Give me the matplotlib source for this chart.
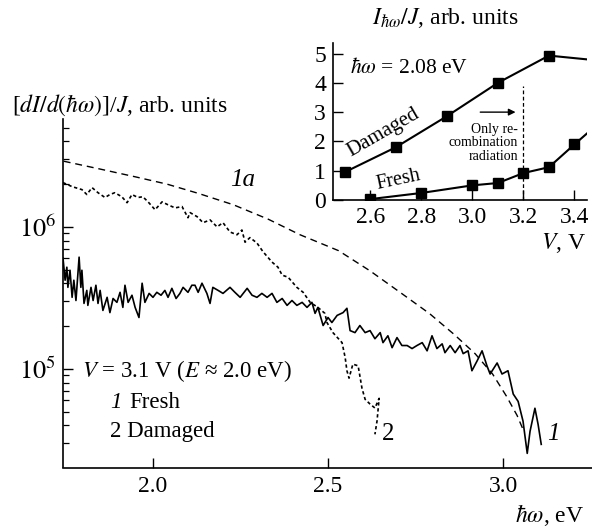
import matplotlib
matplotlib.use("Agg")
import matplotlib.pyplot as plt
import numpy as np

plt.rcParams['font.family'] = ['Liberation Serif', 'DejaVu Serif']
plt.rcParams['mathtext.fontset'] = 'stix'

# --- main panel data: photon energy (eV) vs dI/d(hw)/J ---
e_1a = [1.745, 1.85, 1.95, 2.04, 2.13, 2.23, 2.33, 2.42, 2.53, 2.62, 2.71,
        2.79, 2.86, 2.92, 2.97, 3.01, 3.04, 3.06]
i_1a = [2.9e6, 2.55e6, 2.25e6, 2.0e6, 1.72e6, 1.43e6, 1.13e6, 8.8e5, 6.8e5,
        4.9e5, 3.4e5, 2.45e5, 1.75e5, 1.28e5, 9.2e4, 6.4e4, 4.7e4, 3.6e4]

e_dam = [1.743, 1.769, 1.797, 1.811, 1.826, 1.843, 1.863, 1.877, 1.891, 1.911,
         1.926, 1.94, 1.957, 1.971, 1.986, 2.006, 2.026, 2.043, 2.063, 2.083,
         2.1, 2.106, 2.126, 2.143, 2.163, 2.183, 2.2, 2.22, 2.24, 2.254,
         2.263, 2.277, 2.297, 2.314, 2.34, 2.357, 2.369, 2.386, 2.411, 2.429,
         2.449, 2.471, 2.491, 2.497, 2.514, 2.54, 2.549, 2.554, 2.56, 2.571,
         2.586, 2.597, 2.606, 2.62, 2.634, 2.646, 2.64, 2.634]
i_dam = [2.05e6, 1.92e6, 1.83e6, 1.69e6, 1.89e6, 1.74e6, 1.61e6, 1.69e6, 1.74e6, 1.63e6,
         1.48e6, 1.69e6, 1.61e6, 1.63e6, 1.50e6, 1.32e6, 1.50e6, 1.43e6, 1.36e6, 1.39e6,
         1.16e6, 1.26e6, 1.18e6, 1.07e6, 1.12e6, 1.0e6, 1.07e6, 9.2e5, 8.8e5, 9.5e5,
         7.8e5, 8.4e5, 7.7e5, 6.7e5, 5.65e5, 5.2e5, 4.57e5, 4.42e5, 3.75e5, 3.46e5,
         2.94e5, 2.71e5, 2.46e5, 2.12e5, 1.80e5, 1.53e5, 1.20e5, 9.7e4, 8.6e4, 1.08e5,
         1.05e5, 7.3e4, 6.1e4, 5.65e4, 5.3e4, 6.2e4, 4.3e4, 3.46e4]

e_fresh = [1.743, 1.749, 1.754, 1.757, 1.763, 1.769, 1.774, 1.78, 1.789, 1.794,
           1.797, 1.803, 1.811, 1.814, 1.823, 1.829, 1.837, 1.843, 1.849, 1.857,
           1.869, 1.877, 1.886, 1.897, 1.906, 1.914, 1.92, 1.929, 1.94, 1.949,
           1.96, 1.969, 1.977, 1.989, 2.0, 2.011, 2.023, 2.034, 2.043, 2.054,
           2.066, 2.077, 2.086, 2.1, 2.111, 2.12, 2.129, 2.14, 2.154, 2.163,
           2.171, 2.186, 2.2, 2.22, 2.234, 2.249, 2.269, 2.283, 2.297, 2.311,
           2.326, 2.34, 2.354, 2.369, 2.383, 2.397, 2.411, 2.426, 2.44, 2.454,
           2.463, 2.471, 2.486, 2.5, 2.511, 2.526, 2.543, 2.554, 2.563, 2.577,
           2.591, 2.606, 2.62, 2.634, 2.649, 2.657, 2.671, 2.683, 2.697, 2.711,
           2.726, 2.74, 2.754, 2.769, 2.783, 2.797, 2.811, 2.826, 2.834, 2.849,
           2.863, 2.877, 2.886, 2.9, 2.911, 2.926, 2.94, 2.954, 2.963, 2.983,
           2.997, 3.014, 3.029, 3.043, 3.057, 3.069, 3.077, 3.091, 3.1, 3.109]
i_fresh = [6.03e5, 4.21e5, 5.2e5, 3.75e5, 4.95e5, 3.19e5, 4.21e5, 3.03e5, 6.12e5, 3.75e5,
           4.95e5, 2.89e5, 3.57e5, 2.8e5, 3.75e5, 3.03e5, 3.88e5, 2.89e5, 3.57e5, 2.58e5,
           3.19e5, 2.49e5, 3.13e5, 2.94e5, 3.46e5, 2.71e5, 3.88e5, 2.94e5, 3.3e5, 2.71e5,
           2.3e5, 4.01e5, 2.94e5, 3.4e5, 3.19e5, 3.46e5, 3.3e5, 3.57e5, 3.19e5, 3.69e5,
           3.13e5, 3.4e5, 3.75e5, 3.46e5, 3.88e5, 3.88e5, 3.46e5, 4.01e5, 3.4e5, 2.89e5,
           3.75e5, 3.57e5, 3.4e5, 3.75e5, 3.46e5, 3.19e5, 3.69e5, 3.3e5, 3.19e5, 3.4e5,
           3.19e5, 3.4e5, 2.94e5, 3.13e5, 2.8e5, 3.03e5, 2.8e5, 2.94e5, 2.71e5, 2.94e5,
           2.46e5, 2.71e5, 2.02e5, 2.3e5, 2.12e5, 2.38e5, 2.49e5, 2.67e5, 1.86e5, 1.8e5,
           2.02e5, 1.8e5, 1.86e5, 1.63e5, 1.8e5, 1.53e5, 1.71e5, 1.41e5, 1.66e5, 1.46e5,
           1.46e5, 1.39e5, 1.46e5, 1.53e5, 1.34e5, 1.71e5, 1.39e5, 1.5e5, 1.3e5, 1.46e5,
           1.3e5, 1.46e5, 1.28e5, 1.34e5, 9.7e4, 1.14e5, 1.34e5, 1.05e5, 9.2e4, 1.1e5,
           9.2e4, 9.7e4, 6.65e4, 5.9e4, 4.28e4, 2.54e4, 3.63e4, 5.28e4, 4.07e4, 2.94e4]

# --- inset data: bias voltage vs I_hw/J at hw = 2.08 eV ---
v_dam = [2.5, 2.7, 2.9, 3.1, 3.3]
s_dam = [0.95, 1.8, 2.86, 4.0, 4.93]
v_dam_tail = [3.3, 3.45]
s_dam_tail = [4.93, 4.8]
v_fr = [2.6, 2.8, 3.0, 3.1, 3.2, 3.3, 3.4]
s_fr = [0.03, 0.24, 0.5, 0.58, 0.92, 1.12, 1.9]
v_fr_tail = [3.4, 3.45]
s_fr_tail = [1.9, 2.28]

W, H = 592, 529
FS = 17
fig = plt.figure(figsize=(W / 100, H / 100), dpi=100)

# main axes
ax = fig.add_axes([63 / W, 1 - 467.5 / H, (W - 63) / W, (467.5 - 119) / H])
ax.plot(e_1a, i_1a, color='black', lw=1.0, ls=(0, (5, 3.5)))
ax.plot(e_dam, i_dam, color='black', lw=1.2, ls=(0, (2, 1.6)))
ax.plot(e_fresh, i_fresh, color='black', lw=1.2)
ax.set_yscale('log')
ax.set_xlim(1.743, 3.254)
ax.set_ylim(2.02e4, 5.75e6)
ax.set_xticks([2.0, 2.5, 3.0])
ax.set_xticklabels(['2.0', '2.5', '3.0'])
ax.set_yticks([1e5, 1e6])
ax.set_yticklabels([r'$10^5$', r'$10^6$'])
ax.yaxis.set_minor_locator(matplotlib.ticker.LogLocator(base=10, subs=np.arange(2, 10)))
ax.yaxis.set_minor_formatter(matplotlib.ticker.NullFormatter())
ax.tick_params(which='major', direction='in', length=7, width=1.0, labelsize=FS, pad=6)
ax.tick_params(axis='y', which='major', labelsize=19, pad=5)
ax.tick_params(which='minor', direction='in', length=4.5, width=0.9)
for s in ['top', 'right']:
    ax.spines[s].set_visible(False)
for s in ['left', 'bottom']:
    ax.spines[s].set_linewidth(1.2)

ax.text(2.257, 2.15e6, '1a', fontsize=FS + 1, style='italic', ha='center', va='center')
ax.text(2.671, 3.5e4, '2', fontsize=FS + 1, ha='center', va='center')
ax.text(3.145, 3.5e4, '1', fontsize=FS + 1, style='italic', ha='center', va='center')

fig.text(82 / W, 1 - 371 / H, '$V$ = 3.1 V ($E$ \u2248 2.0 eV)', fontsize=16.5, va='center')
fig.text(110 / W, 1 - 402 / H, '1', fontsize=16.5, style='italic', va='center')
fig.text(129 / W, 1 - 402 / H, 'Fresh', fontsize=16.5, va='center')
fig.text(110 / W, 1 - 432 / H, '2 Damaged', fontsize=16.5, va='center')
fig.text(12 / W, 1 - 105 / H, r'[$dI/d(\hbar\omega)$]/$J$, arb. units', fontsize=FS, va='center')
fig.text(584 / W, 1 - 515 / H, r'$\hbar\omega$, eV', fontsize=FS, va='center', ha='right')

# inset axes
axi = fig.add_axes([333 / W, 1 - 200 / H, (587 - 333) / W, (200 - 43) / H])
axi.plot(v_dam, s_dam, color='black', lw=1.5, marker='s', ms=7)
axi.plot(v_dam_tail, s_dam_tail, color='black', lw=1.5)
axi.plot(v_fr, s_fr, color='black', lw=1.5, marker='s', ms=7)
axi.plot(v_fr_tail, s_fr_tail, color='black', lw=1.5)
axi.plot([3.2, 3.2], [0, 3.9], color='black', lw=0.9, ls=(0, (3, 2)))
axi.annotate('', xy=(3.18, 3.0), xytext=(3.02, 3.0),
             arrowprops=dict(arrowstyle='-|>', color='black', lw=1.0, mutation_scale=10))
axi.text(3.178, 1.95, 'Only re-\ncombination\nradiation', fontsize=10, ha='right', va='center',
         linespacing=1.05)
axi.text(2.52, 4.5, r'$\hbar\omega$ = 2.08 eV', fontsize=FS - 1.5, va='center')
axi.text(2.65, 2.3, 'Damaged', fontsize=15, rotation=30, ha='center', va='center')
axi.text(2.71, 0.7, 'Fresh', fontsize=14.5, rotation=12, ha='center', va='center')
axi.set_xlim(2.454, 3.449)
axi.set_ylim(0, 5.36)
axi.set_xticks([2.6, 2.8, 3.0, 3.2, 3.4])
axi.set_xticklabels(['2.6', '2.8', '3.0', '3.2', '3.4'])
axi.set_yticks([0, 1, 2, 3, 4, 5])
axi.tick_params(direction='in', length=7, width=1.0, labelsize=FS, pad=5)
for s in ['top', 'right']:
    axi.spines[s].set_visible(False)
for s in ['left', 'bottom']:
    axi.spines[s].set_linewidth(1.2)

fig.text(372 / W, 1 - 18 / H, r'$I_{\hbar\omega}/J$, arb. units', fontsize=FS, va='center')
fig.text(586 / W, 1 - 243 / H, r'$V$, V', fontsize=FS, va='center', ha='right')

fig.savefig('out.png', dpi=100)
